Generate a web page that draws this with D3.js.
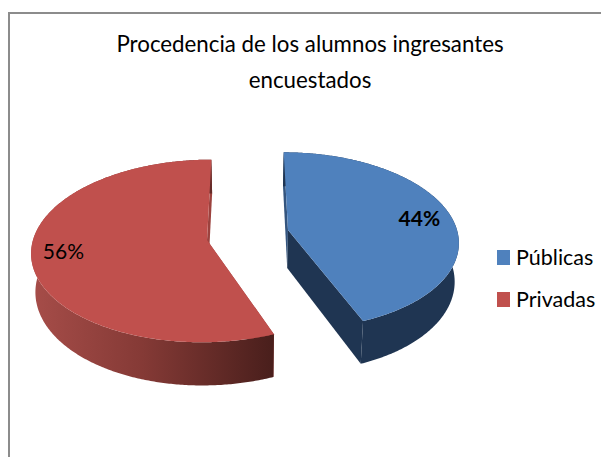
<!DOCTYPE html>
<html><head><meta charset="utf-8">
<script src="https://cdn.jsdelivr.net/npm/d3@7"></script>
<style>html,body{margin:0;padding:0;background:#fff}svg{display:block}text{font-family:Lato,"Open Sans",sans-serif;fill:#000}</style>
</head><body><svg id="c" width="601" height="457"></svg>
<script>
const titleLines = ["Procedencia de los alumnos ingresantes", "encuestados"];
const categories = ["Públicas", "Privadas"];
const values = [44, 56];
const colors = ["#4f81bd", "#c0504d"];

const W = 601, H = 457;
const svg = d3.select("#c");
const defs = svg.append("defs");
const vpX = 248, persp = 0.12, depth = 38, shrink = 0.98;
const geo = [
  {cx: 288, cy: 230, rx: 169, ry: 87, labelR: 0.81, labelDy: "0.45em", bold: true},
  {cx: 207, cy: 240, rx: 174, ry: 90, labelR: 0.82, labelDy: "0.25em", bold: false}
];
// Perspective projection of a point on the pie (r in 0..1, a clockwise from top, z 0=top face, 1=bottom)
function project(g, r, a, z) {
  const u = r * Math.sin(a), v = -r * Math.cos(a);
  const s = 1 / (1 - persp * v);
  const k = z ? shrink : 1;
  return [vpX + (g.cx - vpX + g.rx * u) * s * k,
          g.cy + g.ry * v * s + z * depth * s];
}
const arcs = d3.pie().sort(null)(values);
const line = d3.line();

const grad = defs.append("linearGradient").attr("id", "redWall")
  .attr("gradientUnits", "userSpaceOnUse")
  .attr("x1", 36).attr("x2", 271).attr("y1", 0).attr("y2", 0);
grad.append("stop").attr("offset", 0).attr("stop-color", "#a54c48");
grad.append("stop").attr("offset", 0.45).attr("stop-color", "#853a36");
grad.append("stop").attr("offset", 1).attr("stop-color", "#4a1f1c");

const wallFill = ["#1f3552", "url(#redWall)"];
const cutFill = ["#1f3552", "#9c423e"];
const backCut = ["#34557f", "#9c423e"];

arcs.forEach((d, i) => {
  const g = geo[i];
  const angles = d3.range(d.startAngle, d.endAngle, 0.01).concat([d.endAngle]);
  const quad = (a) => [project(g, 0, a, 0), project(g, 1, a, 0), project(g, 1, a, 1), project(g, 0, a, 1)];
  svg.append("path").attr("d", line(quad(d.startAngle)) + "Z").attr("fill", backCut[i]);
  svg.append("path").attr("d", line(quad(d.endAngle)) + "Z").attr("fill", cutFill[i]);
  const wall = angles.map(a => project(g, 1, a, 0)).concat(angles.slice().reverse().map(a => project(g, 1, a, 1)));
  svg.append("path").attr("d", line(wall) + "Z").attr("fill", wallFill[i]);
  const top = [project(g, 0, 0, 0)].concat(angles.map(a => project(g, 1, a, 0)));
  svg.append("path").attr("d", line(top) + "Z").attr("fill", colors[i]);
});

// Data labels
arcs.forEach((d, i) => {
  const g = geo[i];
  const [x, y] = project(g, g.labelR, (d.startAngle + d.endAngle) / 2, 0);
  svg.append("text").attr("x", x).attr("y", y).attr("dy", g.labelDy)
    .attr("text-anchor", "middle").attr("font-size", 21)
    .attr("font-weight", g.bold ? 700 : 400).text(d.value + "%");
});

// Title
titleLines.forEach((t, i) => {
  svg.append("text").attr("x", 310).attr("y", 52 + i * 36)
    .attr("text-anchor", "middle").attr("font-size", 22.3).text(t);
});

// Legend
const legendY = d3.scalePoint().domain(categories).range([257.5, 299.5]);
categories.forEach((c, i) => {
  svg.append("rect").attr("x", 497).attr("y", legendY(c) - 7.5)
    .attr("width", 13).attr("height", 15).attr("fill", colors[i]);
  svg.append("text").attr("x", 516).attr("y", legendY(c)).attr("dy", "0.35em")
    .attr("font-size", 21.5).text(c);
});

// Frame
svg.append("path").attr("d", line([[9, H], [9, 13], [W, 13]]))
  .attr("fill", "none").attr("stroke", "#8c8c8c").attr("stroke-width", 2);
</script></body></html>
